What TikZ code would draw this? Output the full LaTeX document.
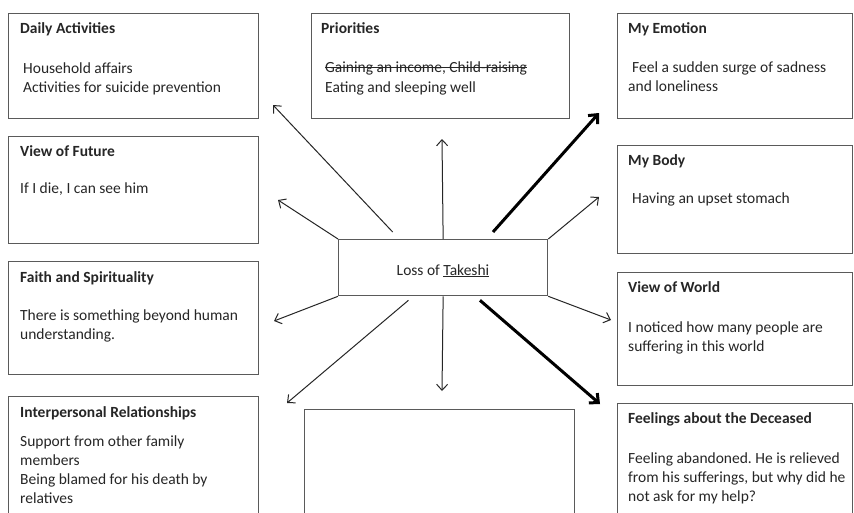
\documentclass[tikz,border=0pt]{standalone}
\usepackage{fontspec}
\setmainfont{Carlito}
\usetikzlibrary{arrows.meta,calc}
\definecolor{boxline}{HTML}{5A5A5A}
\definecolor{txt}{HTML}{262626}
\frenchspacing
\begin{document}
\begin{tikzpicture}[x=1pt,y=-1pt,
 box/.style={draw=boxline, line width=1.3pt, rectangle, inner sep=0pt, anchor=north west},
 ttl/.style={font=\fontsize{15.5}{19}\selectfont\bfseries, text=txt, anchor=base west, inner sep=0pt},
 bodytxt/.style={font=\fontsize{15.5}{19}\selectfont, text=txt, anchor=base west, inner sep=0pt},
 thinarrow/.style={draw=black!85, line width=1pt, -{Straight Barb[length=6pt,width=11pt]}},
 thickarrow/.style={draw=black, line width=3pt, -{Straight Barb[length=7pt,width=13pt]}}]
\useasboundingbox (0,0) rectangle (854,512);
\clip (0,0) rectangle (854,512);
\fill[white] (0,0) rectangle (854,512);
% boxes
\node[box, minimum width=250pt, minimum height=105pt] (da) at (8,13) {};
\node[box, minimum width=250pt, minimum height=107pt] (vf) at (8,136) {};
\node[box, minimum width=250pt, minimum height=113pt] (fs) at (8,261) {};
\node[box, minimum width=250pt, minimum height=134pt] (ir) at (8,396) {};
\node[box, minimum width=258pt, minimum height=105pt] (pr) at (311,13) {};
\node[box, minimum width=235pt, minimum height=105pt] (em) at (617,13) {};
\node[box, minimum width=235pt, minimum height=108pt] (bo) at (617,145) {};
\node[box, minimum width=235pt, minimum height=113pt] (vw) at (617,272) {};
\node[box, minimum width=235pt, minimum height=127pt] (fd) at (617,403) {};
\node[box, minimum width=270pt, minimum height=121pt] (bm) at (304,409) {};
\node[box, minimum width=209pt, minimum height=56pt] (c) at (338,239) {};
\node[bodytxt, anchor=base] (ct) at (443,275) {Loss of \underline{Takeshi}};
% texts
\node[ttl] (da1) at (20,33) {Daily Activities};
\node[bodytxt] (da2) at (23,73) {Household affairs};
\node[bodytxt] (da3) at (23,92) {Activities for suicide prevention};
\node[ttl] (vf1) at (20,156) {View of Future};
\node[bodytxt] (vf2) at (20,193) {If I die, I can see him};
\node[ttl] (fs1) at (20,282) {Faith and Spirituality};
\node[bodytxt] (fs2) at (20,320) {There is something beyond human};
\node[bodytxt] (fs3) at (20,339) {understanding.};
\node[ttl] (ir1) at (20,417) {Interpersonal Relationships};
\node[bodytxt] (ir2) at (20,446) {Support from other family};
\node[bodytxt] (ir3) at (20,465) {members};
\node[bodytxt] (ir4) at (20,484) {Being blamed for his death by};
\node[bodytxt] (ir5) at (20,503) {relatives};
\node[ttl] (pr1) at (321,33) {Priorities};
\node[bodytxt] (pr2) at (325,72) {Gaining an income, Child-raising};
\draw[txt, line width=1pt] ($(pr2.base west)+(0,-5)$) -- ($(pr2.base east)+(0,-5)$);
\node[bodytxt] (pr3) at (325,92) {Eating and sleeping well};
\node[ttl] (em1) at (628,33) {My Emotion};
\node[bodytxt] (em2) at (632,72) {Feel a sudden surge of sadness};
\node[bodytxt] (em3) at (628,91) {and loneliness};
\node[ttl] (bo1) at (628,165) {My Body};
\node[bodytxt] (bo2) at (632,203) {Having an upset stomach};
\node[ttl] (vw1) at (628,292) {View of World};
\node[bodytxt] (vw2) at (628,332) {I noticed how many people are};
\node[bodytxt] (vw3) at (628,351) {suffering in this world};
\node[ttl] (fd1) at (628,423) {Feelings about the Deceased};
\node[bodytxt] (fd2) at (628,463) {Feeling abandoned. He is relieved};
\node[bodytxt] (fd3) at (628,482) {from his sufferings, but why did he};
\node[bodytxt] (fd4) at (628,501) {not ask for my help?};
% arrow tips
\coordinate (tda) at (273,105);
\coordinate (tvf) at (278,200);
\coordinate (tpr) at (442,139);
\coordinate (tem) at (599,113);
\coordinate (tbo) at (599,197);
\coordinate (tvw) at (611,320);
\coordinate (tfd) at (600,404);
\coordinate (tbm) at (442,391);
\coordinate (tir) at (287,403);
\coordinate (tfs) at (274,321);
% arrows
\draw[thinarrow] ($($(c.north west)!0.26!(c.north east)$)+(0,-7)$) -- (tda);
\draw[thinarrow] (c.north west) -- (tvf);
\draw[thinarrow] (c.north) -- (tpr);
\draw[thickarrow] ($($(c.north west)!0.737!(c.north east)$)+(0,-7)$) -- (tem);
\draw[thinarrow] (c.north east) -- (tbo);
\draw[thinarrow] (c.south east) -- (tvw);
\draw[thickarrow] ($($(c.south west)!0.675!(c.south east)$)+(0,4)$) -- (tfd);
\draw[thinarrow] (c.south) -- (tbm);
\draw[thinarrow] ($($(c.south west)!0.335!(c.south east)$)+(0,4)$) -- (tir);
\draw[thinarrow] (c.south west) -- (tfs);
\end{tikzpicture}
\end{document}
